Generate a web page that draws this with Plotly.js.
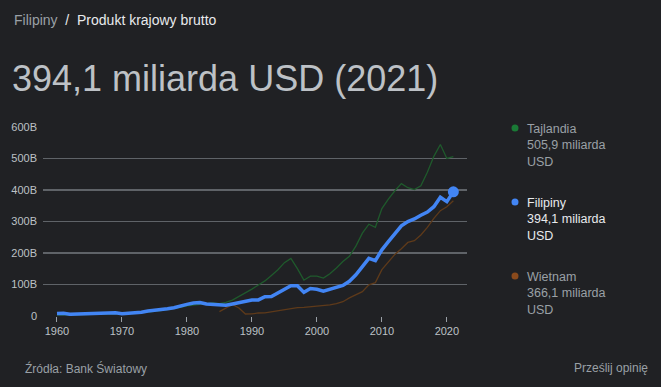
<!DOCTYPE html>
<html>
<head>
<meta charset="utf-8">
<script src="https://cdn.plot.ly/plotly-3.0.1.min.js"></script>
<style>
html,body{margin:0;padding:0;background:#202124;}
#chart{width:661px;height:387px;}
</style>
</head>
<body>
<div id="chart"></div>
<script>
// Years
const years = [];
for (let y = 1960; y <= 2021; y++) years.push(y);

// GDP, billions USD
const philippines = [8,8.5,5.5,6,6.5,7,7.5,8,9,10,7.5,8.5,9.5,12,16,17.5,20,23,26,32,37,41,43,38,36,35.5,34,38,43,48,51,51,61,62,74,87,96,96,75,87,85,79,85,89,97,110,131,157,183,176,210,236,262,286,300,308,320,330,347,377,363,394.1];

const thaiYears = years;
const thailand = [2.8,3.0,3.3,3.5,3.9,4.4,5.3,5.6,6.1,6.7,7.1,7.4,8.1,10.8,13.7,14.9,16.8,19.8,24.6,27.8,32.4,34.8,36.6,40.0,41.8,38.9,43.1,50.5,61.7,72.3,85.3,98.2,111.5,128.9,146.7,169.3,183.0,150.2,113.7,126.7,126.4,120.3,134.3,152.3,172.9,189.3,221.8,262.9,291.4,281.7,341.1,370.8,397.6,420.3,407.3,401.3,413.4,456.4,506.8,544.3,500.2,505.9];

const vietYears = [];
for (let y = 1985; y <= 2021; y++) vietYears.push(y);
const vietnam = [14.1,26.3,36.7,25.4,6.3,6.5,9.6,9.9,13.2,16.3,20.7,24.7,26.8,27.2,28.7,31.2,32.7,35.1,39.6,45.4,57.6,66.4,77.4,99.1,106.0,147.2,172.6,195.6,213.7,233.5,239.3,257.1,281.4,310.1,334.4,346.6,366.1];

const tickVals = [0,100,200,300,400,500,600];
const tickText = ["0","100B","200B","300B","400B","500B","600B"];
const xTicks = [1960,1970,1980,1990,2000,2010,2020];

const legendNames = ["Tajlandia","Filipiny","Wietnam"];
const legendValues = ["505,9 miliarda","394,1 miliarda","366,1 miliarda"];

const font = "Arial, 'Liberation Sans', sans-serif";

const traces = [
  {x: thaiYears, y: thailand, type:'scatter', mode:'lines', line:{color:'#1f5a2c', width:1.3}, hoverinfo:'skip'},
  {x: vietYears, y: vietnam, type:'scatter', mode:'lines', line:{color:'#5e3a1a', width:1.3}, hoverinfo:'skip'},
  {x: years, y: philippines, type:'scatter', mode:'lines', line:{color:'#4285f4', width:3.5}, hoverinfo:'skip'},
  {x: [years[years.length-1]], y: [philippines[philippines.length-1]], type:'scatter', mode:'markers', marker:{color:'#4285f4', size:11}, cliponaxis:false, hoverinfo:'skip'}
];

const legColors = ['#1a7a36','#4285f4','#8a4a1c'];
const legTextColors = ['#9aa0a6','#e8eaed','#9aa0a6'];
const legY = [128, 202, 276];

const L = 43, T = 127, W = 424, H = 189;
function px2paperX(px){ return (px - L)/W; }
function px2paperY(py){ return 1 - (py - T)/H; }

const ann = [];
// header
ann.push({xref:'paper', yref:'paper', x:px2paperX(12), y:px2paperY(20), xanchor:'left', yanchor:'middle', showarrow:false,
  text:'<span style="color:#9aa0a6">Filipiny</span>  <span style="color:#e8eaed">/  Produkt krajowy brutto</span>', font:{family:font, size:14, color:'#e8eaed'}});
ann.push({xref:'paper', yref:'paper', x:px2paperX(10), y:px2paperY(78), xanchor:'left', yanchor:'middle', showarrow:false,
  text:'394,1 miliarda USD (2021)', font:{family:font, size:36, color:'#bdc1c6'}});
// legend
for (let i=0;i<3;i++){
  ann.push({xref:'paper', yref:'paper', x:px2paperX(525), y:px2paperY(legY[i]-8), xanchor:'left', yanchor:'top', align:'left', showarrow:false,
    text: legendNames[i] + '<br>' + legendValues[i] + '<br>USD', font:{family:font, size:12.5, color:legTextColors[i]}});
}
// footer
ann.push({xref:'paper', yref:'paper', x:px2paperX(23), y:px2paperY(368), xanchor:'left', yanchor:'middle', showarrow:false,
  text:'Źródła: Bank Światowy', font:{family:font, size:12, color:'#9aa0a6'}});
ann.push({xref:'paper', yref:'paper', x:px2paperX(650), y:px2paperY(368), xanchor:'right', yanchor:'middle', showarrow:false,
  text:'Prześlij opinię', font:{family:font, size:12, color:'#9aa0a6'}});

const shapes = [];
for (let i=0;i<3;i++){
  const cx = px2paperX(515), cy = px2paperY(legY[i]);
  const rx = 3.5/W, ry = 3.5/H;
  shapes.push({type:'circle', xref:'paper', yref:'paper', x0:cx-rx, x1:cx+rx, y0:cy-ry, y1:cy+ry, fillcolor:legColors[i], line:{width:0}});
}

const layout = {
  width:661, height:387,
  margin:{l:L, r:661-L-W, t:T, b:387-T-H, pad:0},
  paper_bgcolor:'#202124', plot_bgcolor:'#202124',
  showlegend:false,
  xaxis:{range:[1957.85, 2023.1], tickvals:xTicks, ticktext:xTicks.map(String), showgrid:false, zeroline:false,
    ticks:'outside', ticklen:5, tickcolor:'#9aa0a6', tickwidth:1, showline:false,
    tickfont:{family:font, size:11, color:'#bdc1c6'}, fixedrange:true},
  yaxis:{range:[0,600], tickvals:tickVals, ticktext:tickText, showgrid:true, gridcolor:'#5f6368', gridwidth:1.5,
    zeroline:false, showline:false, ticks:'', tickfont:{family:font, size:11, color:'#bdc1c6'}, ticklabelstandoff:5, fixedrange:true},
  annotations: ann,
  shapes: shapes
};

Plotly.newPlot('chart', traces, layout, {displayModeBar:false, staticPlot:true});
</script>
</body>
</html>
